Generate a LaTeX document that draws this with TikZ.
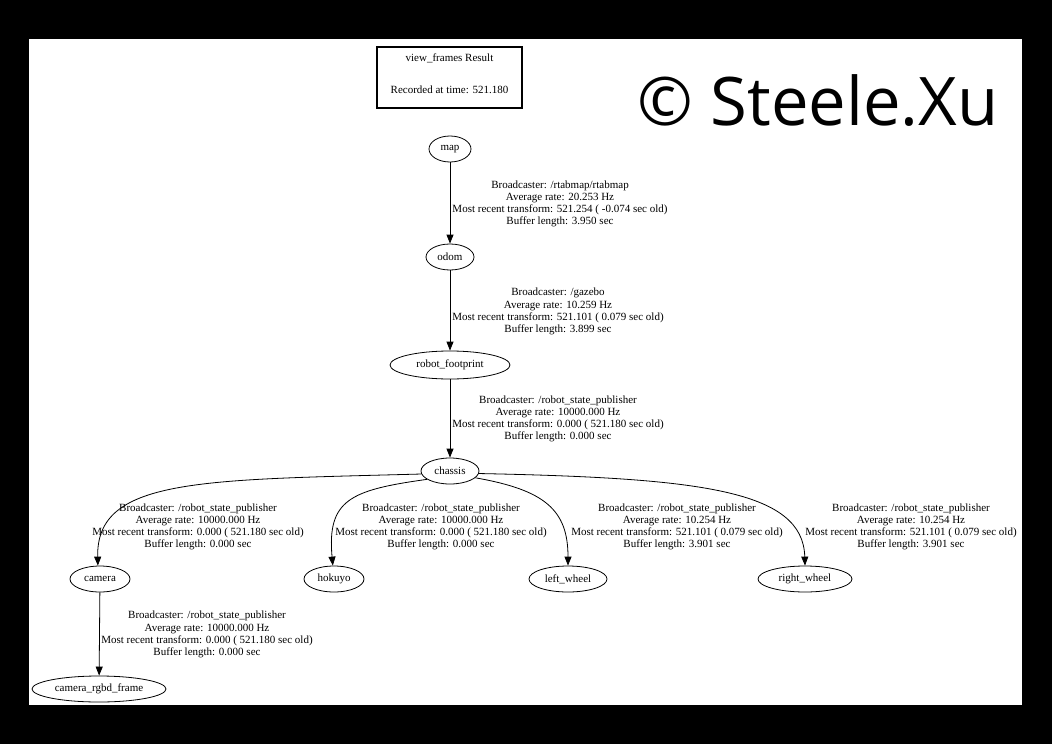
\documentclass[tikz,border=0pt]{standalone}
\usepackage{fontspec}
\setmainfont{Liberation Serif}
\newfontfamily\wmfont{Open Sans}
\usetikzlibrary{shapes.geometric,arrows.meta}
\tikzset{
  frame/.style={ellipse, draw, line width=0.8pt, inner sep=0pt, minimum height=26pt,
    font=\fontsize{11pt}{12pt}\selectfont},
  lbl/.style={align=center, inner sep=0pt, font=\fontsize{11pt}{12.2pt}\selectfont},
  arr/.style={line width=0.8pt, -{Triangle[length=9pt,width=7pt]}},
}
\begin{document}
\begin{tikzpicture}[x=1pt,y=-1pt]
\useasboundingbox (0,0) rectangle (1052,744);
\fill[black] (0,0) rectangle (1052,744);
\fill[white] (29,39) rectangle (1022,705);

% title box
\node[draw, line width=1.6pt, minimum width=145pt, minimum height=61pt, inner sep=0pt] (title) at (449.5,77.5) {};
\node[lbl] (t1) at (449.5,58) {view\_frames Result};
\node[lbl] (t2) at (449.5,90) {Recorded at time: 521.180};

% watermark
\node[font=\wmfont\fontsize{67pt}{70pt}\selectfont, anchor=base, inner sep=0pt] (wm) at (818,125) {© Steele.Xu};

% frames
\node[frame, minimum width=42pt] (map) at (450,149) {map};
\node[frame, minimum width=48pt] (odom) at (450,257) {odom};
\node[frame, minimum width=120pt, minimum height=28pt] (rf) at (450,365) {robot\_footprint};
\node[frame, minimum width=58pt] (chassis) at (450,471) {chassis};
\node[frame, minimum width=60pt] (camera) at (100,579) {camera};
\node[frame, minimum width=60pt] (hokuyo) at (334,579) {hokuyo};
\node[frame, minimum width=78pt] (lw) at (568,579) {left\_wheel};
\node[frame, minimum width=94pt] (rw) at (805,579) {right\_wheel};
\node[frame, minimum width=134pt] (crf) at (99,689) {camera\_rgbd\_frame};

% edges
\draw[arr] (map) -- (odom);
\draw[arr] (odom) -- (rf);
\draw[arr] (rf) -- (chassis);
\draw[arr] (chassis.186) .. controls (200,480) and (96,478) .. (camera.99);
\draw[arr] (chassis.200) .. controls (350,490) and (327,500) .. (hokuyo.95);
\draw[arr] (chassis.345) .. controls (545,490) and (568,510) .. (lw.90);
\draw[arr] (chassis.355) .. controls (700,478) and (803,490) .. (rw.90);
\draw[arr] (camera) -- (crf);

% labels
\node[lbl] (l1) at (560,204) {Broadcaster: /rtabmap/rtabmap\\Average rate: 20.253 Hz\\Most recent transform: 521.254 ( -0.074 sec old)\\Buffer length: 3.950 sec};
\node[lbl] (l2) at (558,311.5) {Broadcaster: /gazebo\\Average rate: 10.259 Hz\\Most recent transform: 521.101 ( 0.079 sec old)\\Buffer length: 3.899 sec};
\node[lbl] (l3) at (558,419) {Broadcaster: /robot\_state\_publisher\\Average rate: 10000.000 Hz\\Most recent transform: 0.000 ( 521.180 sec old)\\Buffer length: 0.000 sec};
\node[lbl] (l4) at (198,527) {Broadcaster: /robot\_state\_publisher\\Average rate: 10000.000 Hz\\Most recent transform: 0.000 ( 521.180 sec old)\\Buffer length: 0.000 sec};
\node[lbl] (l5) at (441,527) {Broadcaster: /robot\_state\_publisher\\Average rate: 10000.000 Hz\\Most recent transform: 0.000 ( 521.180 sec old)\\Buffer length: 0.000 sec};
\node[lbl] (l6) at (677,527) {Broadcaster: /robot\_state\_publisher\\Average rate: 10.254 Hz\\Most recent transform: 521.101 ( 0.079 sec old)\\Buffer length: 3.901 sec};
\node[lbl] (l7) at (911,527) {Broadcaster: /robot\_state\_publisher\\Average rate: 10.254 Hz\\Most recent transform: 521.101 ( 0.079 sec old)\\Buffer length: 3.901 sec};
\node[lbl] (l8) at (207,634.5) {Broadcaster: /robot\_state\_publisher\\Average rate: 10000.000 Hz\\Most recent transform: 0.000 ( 521.180 sec old)\\Buffer length: 0.000 sec};
\end{tikzpicture}
\end{document}
